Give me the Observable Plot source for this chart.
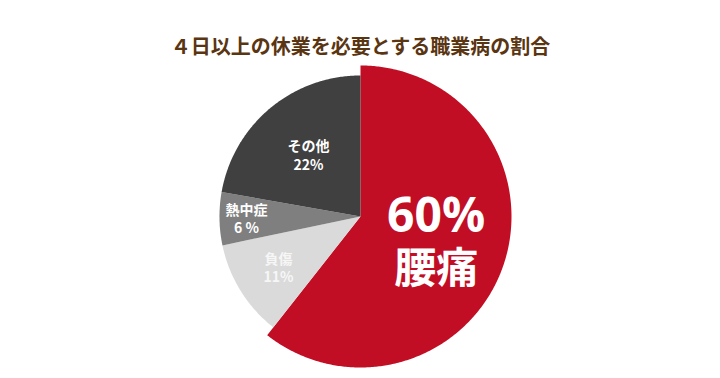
<!DOCTYPE html>
<html>
<head>
<meta charset="utf-8">
<script src="https://cdn.jsdelivr.net/npm/d3@7"></script>
<script src="https://cdn.jsdelivr.net/npm/@observablehq/plot@0.6"></script>
<style>
  html, body { margin: 0; padding: 0; background: #ffffff; }
  svg { display: block; }
</style>
</head>
<body>
<div id="chart"></div>
<script>
const title = "４日以上の休業を必要とする職業病の割合";
const categories = ["腰痛", "負傷", "熱中症", "その他"];
const values = [60, 11, 6, 22];
const valueLabels = ["60%", "11%", "6 %", "22%"];
const colors = ["#c20e24", "#dadada", "#7f7f7f", "#404040"];

// layout (not data)
const W = 720, H = 378;
const cx = 360, cy = 216, R = 151;
const radiusFactor = [1, 0.934, 0.934, 0.934];
const labelRadius = [0.53, 0.64, 0.755, 0.535];

const arcs = d3.pie().sort(null).value(d => d.value)(
  categories.map((c, i) => ({category: c, value: values[i], label: valueLabels[i], color: colors[i], i}))
);

const pt = (a, r) => [r * Math.sin(a), r * Math.cos(a)];

const slices = arcs.map(a => {
  const r = radiusFactor[a.data.i];
  const n = Math.max(8, Math.ceil((a.endAngle - a.startAngle) / 0.01));
  const ring = [[0, 0]];
  for (let k = 0; k <= n; k++) ring.push(pt(a.startAngle + (a.endAngle - a.startAngle) * k / n, r));
  ring.push([0, 0]);
  return {type: "Feature", properties: a.data, geometry: {type: "Polygon", coordinates: [ring]}};
});

const labels = arcs.map(a => {
  const mid = (a.startAngle + a.endAngle) / 2;
  const [x, y] = pt(mid, labelRadius[a.data.i] * radiusFactor[0]);
  return {...a.data, x, y};
});
const big = labels.filter(d => d.i === 0);
const small = labels.filter(d => d.i !== 0);

const font = "'Noto Sans CJK JP', 'Noto Sans', sans-serif";

const chart = Plot.plot({
  width: W,
  height: H,
  marginLeft: cx - R,
  marginRight: W - cx - R,
  marginTop: cy - R,
  marginBottom: H - cy - R,
  style: {fontFamily: font, background: "#ffffff"},
  projection: {
    type: "reflect-y",
    domain: {type: "MultiPoint", coordinates: [[-1, -1], [1, 1]]},
    inset: 0
  },
  marks: [
    Plot.geo(slices, {fill: d => d.properties.color, stroke: "none"}),
    Plot.text(small, {x: "x", y: "y", text: d => d.category + "\n" + d.label, lineHeight: 1.3, fill: d => d.i === 1 ? "#f6f6f6" : "#ffffff", fontSize: 14, fontWeight: "bold"}),
    Plot.text(big, {x: "x", y: "y", text: "label", dy: -26, fill: "#ffffff", fontSize: 48, fontWeight: "bold", letterSpacing: "3px", fontFamily: "'Open Sans', 'Noto Sans', sans-serif"}),
    Plot.text(big, {x: "x", y: "y", text: "category", dy: 27, fill: "#ffffff", fontSize: 42, fontWeight: "bold"}),
    Plot.text([title], {text: d => d, frameAnchor: "top", dy: -26, fill: "#5a3512", fontSize: 20, fontWeight: "bold", letterSpacing: "1px"})
  ]
});
document.getElementById("chart").appendChild(chart);
</script>
</body>
</html>
